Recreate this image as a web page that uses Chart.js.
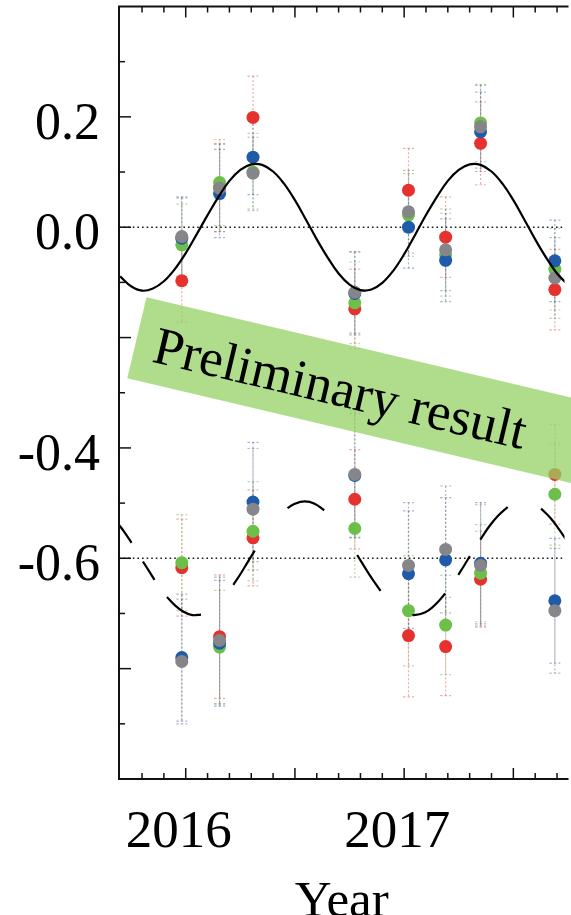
<!DOCTYPE html>
<html>
<head>
<meta charset="utf-8">
<script src="https://cdn.jsdelivr.net/npm/chart.js@4.4.1/dist/chart.umd.min.js"></script>
<style>
html,body{margin:0;padding:0;background:#fff;overflow:hidden;width:571px;height:915px;}
#wrap{position:absolute;left:0;top:0;width:571px;height:940px;}
canvas{display:block;}
</style>
</head>
<body>
<div id="wrap"><canvas id="c" width="571" height="940"></canvas></div>
<script>
// ---------- data ----------
const groupYears = [2015.982, 2016.155, 2016.308, 2016.774, 2017.020, 2017.190, 2017.350, 2017.690];

// upper panel (around 0.0)
const redUpper   = [-0.097, 0.072, 0.199, -0.148, 0.067, -0.018, 0.152, -0.113];
const greenUpper = [-0.032, 0.081, 0.100, -0.137, 0.022, -0.050, 0.189, -0.076];
const blueUpper  = [-0.020, 0.061, 0.127, -0.120, 0.000, -0.060, 0.173, -0.061];
const greyUpper  = [-0.017, 0.071, 0.098, -0.118, 0.028, -0.041, 0.182, -0.092];

// lower panel (around -0.6)
const redLower   = [-0.617, -0.742, -0.563, -0.493, -0.740, -0.760, -0.638, -0.448];
const greenLower = [-0.608, -0.761, -0.551, -0.546, -0.695, -0.721, -0.627, -0.484];
const blueLower  = [-0.780, -0.754, -0.498, -0.450, -0.628, -0.603, -0.609, -0.677];
const greyLower  = [-0.787, -0.749, -0.511, -0.448, -0.613, -0.584, -0.613, -0.695];

// error half-lengths
const errUpperRed   = [0.075, 0.080, 0.075, 0.072, 0.076, 0.073, 0.075, 0.073];
const errUpperGreen = [0.074, 0.078, 0.070, 0.074, 0.075, 0.075, 0.070, 0.074];
const errUpperBlue  = [0.073, 0.080, 0.068, 0.075, 0.074, 0.075, 0.072, 0.074];
const errUpperGrey  = [0.072, 0.079, 0.065, 0.074, 0.075, 0.074, 0.075, 0.073];
const errLowerRed   = [0.088, 0.112, 0.087, 0.090, 0.111, 0.089, 0.087, 0.090];
const errLowerGreen = [0.087, 0.103, 0.090, 0.088, 0.100, 0.090, 0.088, 0.092];
const errLowerBlue  = [0.115, 0.114, 0.108, 0.112, 0.114, 0.113, 0.110, 0.113];
const errLowerGrey  = [0.113, 0.115, 0.110, 0.115, 0.114, 0.115, 0.110, 0.113];

// solid fitted curve (upper)
const curveUpperT = [2015.70,2015.75,2015.80,2015.85,2015.90,2015.95,2016.00,2016.05,2016.10,2016.15,
  2016.20,2016.25,2016.30,2016.35,2016.40,2016.45,2016.50,2016.55,2016.60,2016.65,
  2016.70,2016.75,2016.80,2016.85,2016.90,2016.95,2017.00,2017.05,2017.10,2017.15,
  2017.20,2017.25,2017.30,2017.35,2017.40,2017.45,2017.50,2017.55,2017.60,2017.65,
  2017.70,2017.75];
const curveUpperV = [-0.089,-0.107,-0.115,-0.111,-0.098,-0.076,-0.047,-0.013,0.022,0.055,
  0.084,0.104,0.114,0.113,0.101,0.079,0.049,0.014,-0.022,-0.055,
  -0.084,-0.104,-0.114,-0.113,-0.101,-0.079,-0.049,-0.014,0.022,0.055,
  0.084,0.104,0.114,0.113,0.101,0.079,0.049,0.014,-0.022,-0.055,
  -0.084,-0.104];

// broken (dashed) fitted curve (lower); null = gap
const curveLowerT = [2015.69,2015.72,2015.752,2015.78,2015.804,2015.83,2015.857,2015.88,
  2015.914,2015.95,2015.99,2016.03,2016.07,2016.14,
  2016.218,2016.25,2016.285,2016.316,2016.39,
  2016.466,2016.50,2016.545,2016.59,2016.634,2016.71,
  2016.785,2016.84,2016.892,2016.96,
  2017.038,2017.075,2017.11,2017.15,2017.188,2017.22,
  2017.248,2017.275,2017.301,2017.325,
  2017.349,2017.39,2017.43,2017.474,2017.55,
  2017.627,2017.67,2017.71,2017.75];
const curveLowerV = [-0.537,-0.553,-0.572,null,-0.606,-0.622,-0.639,null,
  -0.670,-0.685,-0.697,-0.703,-0.702,null,
  -0.648,-0.629,-0.606,-0.586,null,
  -0.509,-0.501,-0.497,-0.501,-0.513,null,
  -0.594,-0.629,-0.659,null,
  -0.703,-0.701,-0.695,-0.681,-0.664,null,
  -0.630,-0.613,-0.596,null,
  -0.566,-0.542,-0.523,-0.507,null,
  -0.510,-0.527,-0.548,-0.571];

const xTickValues = [2016, 2017];
const xTickLabels = ['2016', '2017'];
const yTickValues = [0.2, 0.0, -0.4, -0.6];
const yTickLabels = ['0.2', '0.0', '-0.4', '-0.6'];
const refLines = [0.0, -0.6];
const xAxisTitle = 'Year';
const annotationText = 'Preliminary result';

// ---------- styling ----------
const SERIF = "'Liberation Serif', 'Times New Roman', serif";
const COLORS = {
  red:   {pt: '#e6322e', err: 'rgba(220,70,70,0.45)'},
  green: {pt: '#6cbf48', err: 'rgba(110,170,80,0.45)'},
  blue:  {pt: '#1f5ba8', err: 'rgba(60,90,150,0.45)'},
  grey:  {pt: '#85858a', err: 'rgba(120,120,125,0.5)'}
};

function pts(up, low) {
  return groupYears.map((t, i) => ({x: t, y: up[i]}))
    .concat(groupYears.map((t, i) => ({x: t, y: low[i]})));
}
function scatterSet(name, up, low, eUp, eLow, order) {
  return {
    type: 'scatter', label: name, data: pts(up, low),
    errors: eUp.concat(eLow), errColor: COLORS[name].err,
    backgroundColor: COLORS[name].pt, borderColor: COLORS[name].pt,
    borderWidth: 0, pointRadius: 6.5, pointHoverRadius: 6.5, order: order
  };
}

const frame = {
  id: 'frame',
  beforeDatasetsDraw(chart) {
    const {ctx, chartArea: a, scales: {x, y}} = chart;
    ctx.save();
    ctx.beginPath(); ctx.rect(a.left, a.top, a.right - a.left, a.bottom - a.top); ctx.clip();
    // dotted reference lines
    ctx.strokeStyle = '#1a1a1a'; ctx.lineWidth = 1.6; ctx.setLineDash([1.6, 3]);
    refLines.forEach(v => {
      const py = y.getPixelForValue(v);
      ctx.beginPath(); ctx.moveTo(a.left, py); ctx.lineTo(a.right, py); ctx.stroke();
    });
    // error bars
    chart.data.datasets.forEach(ds => {
      if (!ds.errors) return;
      ctx.strokeStyle = ds.errColor;
      ds.data.forEach((p, i) => {
        const e = ds.errors[i];
        const px = x.getPixelForValue(p.x);
        const y1 = y.getPixelForValue(p.y + e), y2 = y.getPixelForValue(p.y - e);
        ctx.lineWidth = 1.2; ctx.setLineDash([2, 2]);
        ctx.beginPath(); ctx.moveTo(px, y1); ctx.lineTo(px, y2); ctx.stroke();
        ctx.setLineDash([2.5, 2]);
        [y1, y2].forEach(yy => {
          ctx.beginPath(); ctx.moveTo(px - 5.5, yy); ctx.lineTo(px + 5.5, yy); ctx.stroke();
        });
      });
    });
    ctx.restore();
  },
  afterDatasetsDraw(chart) {
    const {ctx, chartArea: a, scales: {x, y}} = chart;
    ctx.save();
    ctx.setLineDash([]);
    ctx.strokeStyle = '#111'; ctx.lineWidth = 2;
    ctx.beginPath();
    ctx.moveTo(a.right + 4, a.top); ctx.lineTo(a.left, a.top);
    ctx.lineTo(a.left, a.bottom); ctx.lineTo(a.right + 4, a.bottom);
    ctx.stroke();
    ctx.lineWidth = 1.5;
    // x ticks (inward, top and bottom)
    for (let k = 0; k <= 21; k++) {
      const v = Math.round((2015.7 + k * 0.1) * 10) / 10;
      const px = x.getPixelForValue(v);
      if (px < a.left + 2 || px > a.right + 2) continue;
      const major = Math.abs(v * 2 - Math.round(v * 2)) < 1e-6;
      const len = major ? 11 : 6;
      ctx.beginPath();
      ctx.moveTo(px, a.top); ctx.lineTo(px, a.top + len);
      ctx.moveTo(px, a.bottom); ctx.lineTo(px, a.bottom - len);
      ctx.stroke();
    }
    // y ticks (inward, left)
    for (let k = 1; k < 14; k++) {
      const v = Math.round((-1.0 + k * 0.1) * 10) / 10;
      const py = y.getPixelForValue(v);
      const major = Math.abs(v * 5 - Math.round(v * 5)) < 1e-6;
      const len = major ? 12 : 6;
      ctx.beginPath(); ctx.moveTo(a.left, py); ctx.lineTo(a.left + len, py); ctx.stroke();
    }
    ctx.restore();
  },
  afterDraw(chart) {
    const {ctx, chartArea: a} = chart;
    ctx.save();
    ctx.translate(a.left + 8.3, a.top + 371.7);
    ctx.rotate(13.3 * Math.PI / 180);
    ctx.fillStyle = 'rgba(150,210,100,0.75)';
    ctx.fillRect(0, -83.3, 480, 83.3);
    ctx.fillStyle = '#000';
    ctx.font = '53px ' + SERIF;
    ctx.textBaseline = 'alphabetic';
    ctx.textAlign = 'left';
    ctx.fillText(annotationText, 19, -21.6);
    ctx.restore();
  }
};

new Chart(document.getElementById('c'), {
  type: 'scatter',
  data: {
    datasets: [
      {type: 'line', label: 'fit upper', data: curveUpperT.map((t, i) => ({x: t, y: curveUpperV[i]})),
       borderColor: '#000', borderWidth: 2.2, pointRadius: 0, tension: 0.4, fill: false, order: 1},
      {type: 'line', label: 'fit lower', data: curveLowerT.map((t, i) => ({x: t, y: curveLowerV[i]})),
       borderColor: '#000', borderWidth: 2.2, pointRadius: 0, tension: 0.4, fill: false, spanGaps: false, order: 0},
      scatterSet('red', redUpper, redLower, errUpperRed, errLowerRed, 5),
      scatterSet('green', greenUpper, greenLower, errUpperGreen, errLowerGreen, 4),
      scatterSet('blue', blueUpper, blueLower, errUpperBlue, errLowerBlue, 3),
      scatterSet('grey', greyUpper, greyLower, errUpperGrey, errLowerGrey, 2)
    ]
  },
  options: {
    responsive: false,
    animation: false,
    devicePixelRatio: 1,
    layout: {padding: {top: 6, left: 0, right: 0, bottom: 0}},
    plugins: {legend: {display: false}, tooltip: {enabled: false}},
    scales: {
      x: {
        type: 'linear', min: 2015.6945, max: 2017.7342, bounds: 'data',
        grid: {display: false, drawTicks: false}, border: {display: false},
        afterBuildTicks: s => { s.ticks = xTickValues.map(v => ({value: v})); },
        afterFit: s => { s.height = 161; s.paddingLeft = 0; s.paddingRight = 0; },
        ticks: {autoSkip: false, maxRotation: 0, minRotation: 0, padding: 22, labelOffset: -7,
                color: '#000', font: {family: SERIF, size: 53},
                callback: (v, i) => xTickLabels[i]},
        title: {display: true, text: xAxisTitle, color: '#000', font: {family: SERIF, size: 51},
                padding: {top: 0, bottom: 7}}
      },
      y: {
        type: 'linear', min: -1.0, max: 0.4, bounds: 'data',
        grid: {display: false, drawTicks: false}, border: {display: false},
        afterBuildTicks: s => { s.ticks = yTickValues.map(v => ({value: v})); },
        afterFit: s => { s.width = 119; s.paddingTop = 0; s.paddingBottom = 0; },
        ticks: {autoSkip: false, padding: 19, labelOffset: 8, color: '#000',
                font: {family: SERIF, size: 52},
                callback: (v, i) => yTickLabels[i]}
      }
    }
  },
  plugins: [frame]
});
</script>
</body>
</html>
